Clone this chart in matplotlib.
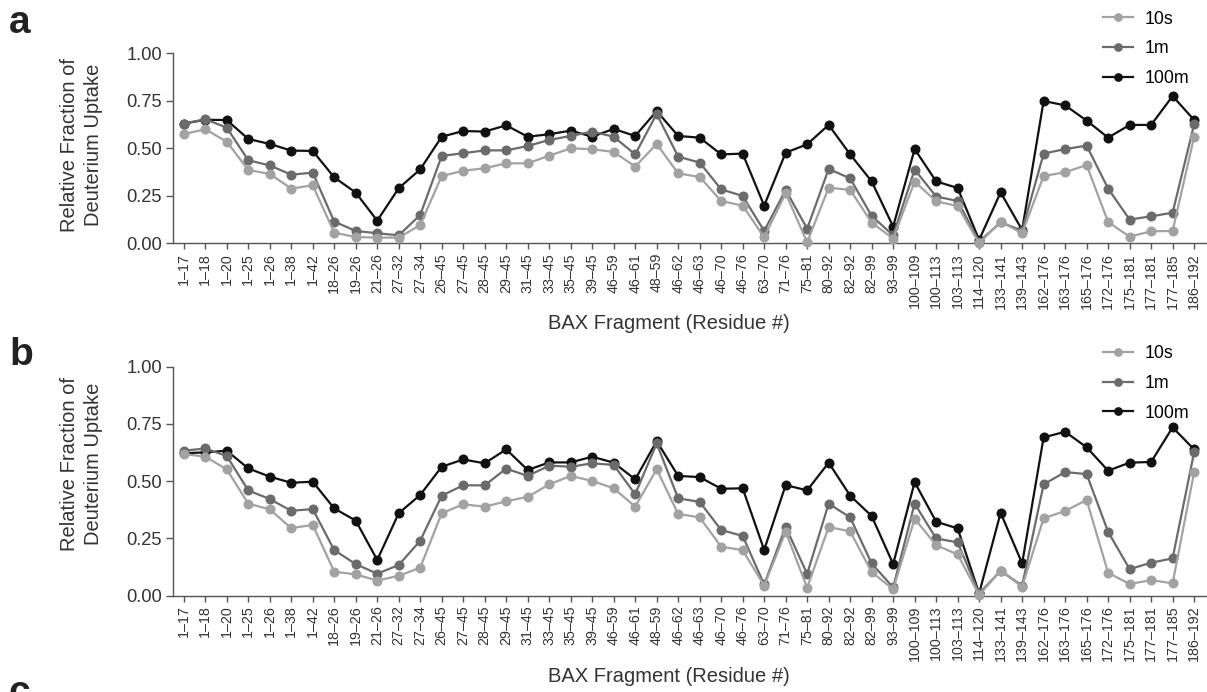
import matplotlib
matplotlib.use("Agg")
import matplotlib.pyplot as plt

plt.rcParams['font.family'] = ['Liberation Sans', 'DejaVu Sans']

fragments = ["1–17", "1–18", "1–20", "1–25", "1–26", "1–38", "1–42", "18–26", "19–26", "21–26",
             "27–32", "27–34", "26–45", "27–45", "28–45", "29–45", "31–45", "33–45", "35–45", "39–45",
             "46–59", "46–61", "48–59", "46–62", "46–63", "46–70", "46–76", "63–70", "71–76", "75–81",
             "80–92", "82–92", "82–99", "93–99", "100–109", "100–113", "103–113", "114–120", "133–141",
             "139–143", "162–176", "163–176", "165–176", "172–176", "175–181", "177–181", "177–185",
             "186–192"]

# Panel a uptake
a_10s = [0.575, 0.600, 0.535, 0.386, 0.365, 0.288, 0.305, 0.056, 0.033, 0.030,
         0.030, 0.096, 0.354, 0.382, 0.395, 0.421, 0.421, 0.461, 0.500, 0.495,
         0.481, 0.404, 0.523, 0.368, 0.349, 0.223, 0.198, 0.032, 0.263, 0.005,
         0.293, 0.281, 0.109, 0.025, 0.325, 0.221, 0.196, 0.000, 0.114, 0.053,
         0.354, 0.374, 0.412, 0.112, 0.035, 0.063, 0.065, 0.560]
a_1m = [0.630, 0.653, 0.609, 0.437, 0.410, 0.361, 0.372, 0.114, 0.065, 0.053,
        0.042, 0.149, 0.460, 0.474, 0.489, 0.489, 0.512, 0.544, 0.565, 0.588,
        0.561, 0.468, 0.681, 0.456, 0.425, 0.284, 0.249, 0.065, 0.281, 0.077,
        0.391, 0.342, 0.144, 0.042, 0.388, 0.246, 0.223, 0.009, 0.110, 0.067,
        0.472, 0.496, 0.514, 0.288, 0.125, 0.142, 0.161, 0.626]
a_100m = [0.630, 0.650, 0.649, 0.549, 0.523, 0.488, 0.486, 0.347, 0.267, 0.119,
          0.290, 0.389, 0.561, 0.591, 0.588, 0.621, 0.561, 0.574, 0.593, 0.561,
          0.602, 0.565, 0.696, 0.565, 0.556, 0.468, 0.472, 0.198, 0.477, 0.521,
          0.623, 0.468, 0.326, 0.088, 0.496, 0.326, 0.291, 0.018, 0.268, 0.070,
          0.749, 0.726, 0.646, 0.556, 0.623, 0.623, 0.775, 0.649]

# Panel b uptake
b_10s = [0.619, 0.607, 0.552, 0.402, 0.377, 0.295, 0.309, 0.105, 0.093, 0.066,
         0.087, 0.122, 0.360, 0.399, 0.389, 0.412, 0.432, 0.486, 0.523, 0.501,
         0.469, 0.389, 0.552, 0.357, 0.342, 0.214, 0.199, 0.044, 0.279, 0.035,
         0.300, 0.281, 0.103, 0.028, 0.336, 0.221, 0.180, 0.003, 0.109, 0.039,
         0.338, 0.370, 0.418, 0.100, 0.051, 0.068, 0.054, 0.539]
b_1m = [0.633, 0.643, 0.610, 0.460, 0.422, 0.371, 0.378, 0.199, 0.138, 0.096,
        0.134, 0.240, 0.437, 0.482, 0.482, 0.555, 0.523, 0.568, 0.563, 0.578,
        0.571, 0.443, 0.665, 0.425, 0.410, 0.287, 0.261, 0.049, 0.301, 0.095,
        0.402, 0.342, 0.141, 0.036, 0.402, 0.250, 0.233, 0.010, 0.109, 0.044,
        0.486, 0.540, 0.531, 0.279, 0.116, 0.144, 0.163, 0.626]
b_100m = [0.622, 0.626, 0.633, 0.556, 0.520, 0.493, 0.498, 0.381, 0.328, 0.156,
          0.360, 0.440, 0.563, 0.595, 0.578, 0.639, 0.549, 0.582, 0.582, 0.607,
          0.581, 0.508, 0.675, 0.523, 0.518, 0.467, 0.469, 0.200, 0.483, 0.460,
          0.581, 0.437, 0.348, 0.138, 0.496, 0.323, 0.294, 0.010, 0.362, 0.141,
          0.691, 0.716, 0.648, 0.546, 0.581, 0.584, 0.735, 0.639]

series_labels = ["10s", "1m", "100m"]
series_colors = ["#a2a2a2", "#6b6b6b", "#111111"]
yticks = [0.0, 0.25, 0.5, 0.75, 1.0]

W, H = 1207, 692
fig = plt.figure(figsize=(W / 100, H / 100), dpi=100)


def px_axes(left, top, right, bottom):
    return fig.add_axes([left / W, 1 - bottom / H, (right - left) / W, (bottom - top) / H])


def draw_panel(ax, data, ylab_y, xlab_y, legend_top):
    x = list(range(len(fragments)))
    handles = []
    # 100m underneath, 10s on top
    for vals, lab, col, z in zip(data[::-1], series_labels[::-1], series_colors[::-1], [2, 3, 4]):
        h, = ax.plot(x, vals, '-o', color=col, lw=1.6, ms=6.2, label=lab, zorder=z,
                     clip_on=False)
        handles.append(h)
    ax.set_xlim(-0.5, 47.6)
    ax.set_ylim(0, 1.0)
    ax.set_yticks(yticks)
    ax.set_yticklabels([f"{v:.2f}" for v in yticks], fontsize=13.2, color="#333333")
    ax.set_xticks(x)
    ax.set_xticklabels(fragments, rotation=90, fontsize=10.3, color="#333333")
    for s in ("top", "right"):
        ax.spines[s].set_visible(False)
    for s in ("left", "bottom"):
        ax.spines[s].set_color("#555555")
        ax.spines[s].set_linewidth(1.0)
    ax.tick_params(axis='both', direction='out', color="#555555", width=1.0)
    ax.tick_params(axis='y', length=5, pad=3)
    ax.tick_params(axis='x', length=4, pad=3)
    ax.set_ylabel("Relative Fraction of\nDeuterium Uptake", fontsize=14.5, color="#333333",
                  linespacing=1.3)
    ax.yaxis.set_label_coords(-0.068, ylab_y)
    ax.set_xlabel("BAX Fragment (Residue #)", fontsize=14.5, color="#333333")
    ax.xaxis.set_label_coords(0.48, xlab_y)
    ax.legend(handles[::-1], series_labels, loc='upper left', frameon=False, fontsize=12.8,
              handlelength=1.7, handletextpad=0.65, labelspacing=0.72, borderpad=0,
              borderaxespad=0, markerscale=0.85,
              bbox_to_anchor=(1103 / W, 1 - legend_top / H), bbox_transform=fig.transFigure)


ax_a = px_axes(173, 53.3, 1207, 243.3)
draw_panel(ax_a, [a_10s, a_1m, a_100m], 0.517, -0.37, 10.5)

ax_b = px_axes(173, 366.7, 1207, 595.7)
draw_panel(ax_b, [b_10s, b_1m, b_100m], 0.575, -0.312, 345.0)

fig.text(9 / W, 1 - 33 / H, "a", fontsize=28, fontweight='bold', color="#222222", va='baseline')
fig.text(9 / W, 1 - 365 / H, "b", fontsize=28, fontweight='bold', color="#222222", va='baseline')
fig.text(9 / W, 1 - 703 / H, "c", fontsize=28, fontweight='bold', color="#222222", va='baseline')

fig.savefig("out.png", dpi=100)
